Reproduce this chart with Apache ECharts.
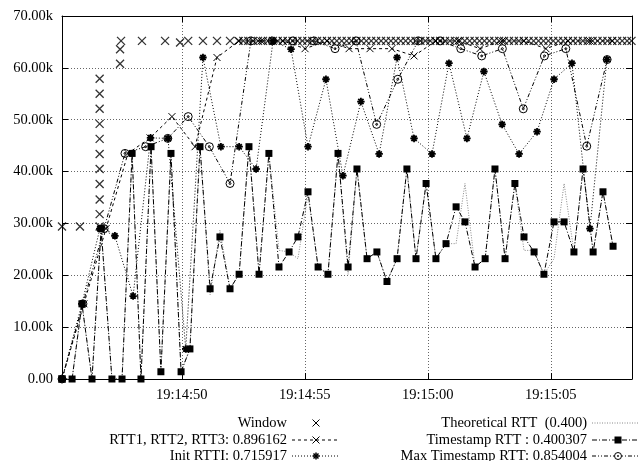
<!DOCTYPE html>
<html><head><meta charset="utf-8">
<script src="https://cdn.jsdelivr.net/npm/echarts@6/dist/echarts.min.js"></script>
<style>html,body{margin:0;padding:0;background:#fff}#c{width:638px;height:461px}</style>
</head><body><div id="c"></div>
<script>
// ---- axis ticks (x in seconds after 19:14:00) ----
const X_MIN = 45.13, X_MAX = 68.30;
const xTicks = [50, 55, 60, 65];
const xTickLabels = ['19:14:50', '19:14:55', '19:15:00', '19:15:05'];
const yTicks = [0, 10000, 20000, 30000, 40000, 50000, 60000, 70000];
const yTickLabels = ['0.00', '10.00k', '20.00k', '30.00k', '40.00k', '50.00k', '60.00k', '70.00k'];

// ---- Window (bytes, in thousands) ----
const windowTimes = [45.13, 45.86, 46.66, 46.66, 46.66, 46.66, 46.66, 46.66, 46.66, 46.66, 46.66, 46.66, 46.66,
  47.49, 47.49, 47.53, 48.38, 49.32, 49.93, 50.26, 50.86, 51.43, 51.96,
  52.30, 52.50, 52.70, 52.90, 53.10, 53.30, 53.50, 53.70, 53.90, 54.10,
  54.30, 54.50, 54.70, 54.90, 55.10, 55.30, 55.50, 55.70, 55.90, 56.10,
  56.30, 56.50, 56.70, 56.90, 57.10, 57.30, 57.50, 57.70, 57.90, 58.10,
  58.30, 58.50, 58.70, 58.90, 59.10, 59.30, 59.50, 59.70, 59.90, 60.10,
  60.30, 60.50, 60.70, 60.90, 61.10, 61.30, 61.50, 61.70, 61.90, 62.10,
  62.30, 62.50, 62.70, 62.90, 63.10, 63.30, 63.50, 63.70, 63.90, 64.10,
  64.30, 64.50, 64.70, 64.90, 65.10, 65.30, 65.50, 65.70, 65.90, 66.10,
  66.30, 66.50, 66.70, 66.90, 67.10, 67.30, 67.50, 67.70, 67.90, 68.10,
  68.28];
const windowK = [29.4, 29.4, 29.4, 31.8, 34.6, 37.6, 40.5, 43.4, 46.3, 49.2, 52.1, 55.0, 57.9,
  60.8, 63.6, 65.2, 65.2, 65.2, 64.9, 65.2, 65.2, 65.2, 65.2,
  65.2, 65.2, 65.2, 65.2, 65.2, 65.2, 65.2, 65.2, 65.2, 65.2,
  65.2, 65.2, 65.2, 65.2, 65.2, 65.2, 65.2, 65.2, 65.2, 65.2,
  65.2, 65.2, 65.2, 65.2, 65.2, 65.2, 65.2, 65.2, 65.2, 65.2,
  65.2, 65.2, 65.2, 65.2, 65.2, 65.2, 65.2, 65.2, 65.2, 65.2,
  65.2, 65.2, 65.2, 65.2, 65.2, 65.2, 65.2, 65.2, 65.2, 65.2,
  65.2, 65.2, 65.2, 65.2, 65.2, 65.2, 65.2, 65.2, 65.2, 65.2,
  65.2, 65.2, 65.2, 65.2, 65.2, 65.2, 65.2, 65.2, 65.2, 65.2,
  65.2, 65.2, 65.2, 65.2, 65.2, 65.2, 65.2, 65.2, 65.2, 65.2,
  65.2];

// ---- RTT1, RTT2, RTT3 ----
const rttTimes = [45.13, 46.02, 46.92, 47.81, 48.71, 49.60, 50.54, 51.43, 52.33, 53.22, 54.11, 55.01, 55.90,
  56.80, 57.65, 58.54, 59.44, 60.33, 61.23, 62.12, 63.02, 63.91, 64.80, 65.70, 66.59, 67.49];
const rttK = [0, 14.5, 29.0, 43.5, 46.5, 50.6, 44.8, 62.0, 65.2, 65.2, 65.2, 63.7, 65.2,
  63.7, 63.7, 63.7, 62.3, 65.2, 65.2, 63.7, 65.2, 65.2, 63.7, 65.2, 65.2, 65.2];

// ---- Init RTTI ----
const initTimes = [45.13, 45.94, 46.67, 47.28, 48.02, 48.73, 49.44, 50.16, 50.86, 51.59, 52.33, 53.02, 53.71,
  54.44, 55.13, 55.86, 56.55, 57.28, 58.02, 58.75, 59.44, 60.17, 60.86, 61.59, 62.28, 63.02, 63.71,
  64.44, 65.13, 65.86, 66.59, 67.28];
const initK = [0, 14.5, 29.0, 27.6, 16.0, 46.5, 46.4, 5.8, 62.0, 44.8, 44.8, 40.5, 65.2,
  63.6, 44.8, 57.8, 39.2, 53.5, 43.4, 62.0, 46.4, 43.4, 60.9, 46.4, 59.3, 49.1, 43.4,
  47.7, 57.8, 60.9, 29.0, 61.6];

// ---- Timestamp RTT and Theoretical RTT (same sample times) ----
const tsTimes = [45.13, 45.54, 45.94, 46.35, 46.72, 47.16, 47.57, 47.98, 48.34, 48.75, 49.15, 49.56, 49.97,
  50.33, 50.74, 51.15, 51.55, 51.96, 52.33, 52.73, 53.14, 53.54, 53.95, 54.36, 54.72, 55.13, 55.54,
  55.94, 56.35, 56.76, 57.12, 57.53, 57.93, 58.34, 58.75, 59.15, 59.52, 59.93, 60.33, 60.74, 61.15,
  61.51, 61.92, 62.33, 62.73, 63.14, 63.54, 63.91, 64.32, 64.72, 65.13, 65.54, 65.94, 66.31, 66.72,
  67.12, 67.53];
const timestampK = [0, 0, 14.5, 0, 29.0, 0, 0, 43.5, 0, 44.8, 1.4, 43.5, 1.4,
  5.8, 44.8, 17.4, 27.4, 17.4, 20.2, 44.8, 20.2, 43.5, 21.6, 24.5, 27.4, 36.1, 21.6,
  20.2, 43.5, 21.6, 40.5, 23.2, 24.5, 18.8, 23.2, 40.5, 23.2, 37.7, 23.2, 26.1, 33.2,
  30.3, 21.6, 23.2, 40.5, 23.2, 37.7, 27.4, 24.5, 20.2, 30.3, 30.3, 24.5, 40.5, 24.5,
  36.1, 25.6];
const theoreticalK = [0, 0, 14.5, 0, 29.0, 0, 0, 43.5, 0, 44.8, 1.4, 43.5, 1.4,
  5.8, 44.8, 16.2, 28.7, 17.4, 20.2, 44.8, 20.2, 43.5, 24.8, 24.5, 23.2, 35.5, 21.6,
  20.2, 43.5, 20.2, 40.5, 23.2, 24.5, 18.8, 23.2, 40.5, 23.2, 37.7, 23.2, 26.1, 26.1,
  37.7, 21.6, 23.2, 40.5, 23.2, 37.7, 24.8, 24.8, 20.2, 23.2, 37.7, 24.5, 40.5, 24.5,
  36.1, 25.6];

// ---- Max Timestamp RTT ----
const maxTimes = [45.13, 45.98, 46.84, 47.69, 48.53, 49.43, 50.26, 51.12, 51.96, 52.81, 53.67, 54.52, 55.37,
  56.23, 57.08, 57.92, 58.78, 59.61, 60.50, 61.34, 62.19, 63.03, 63.88, 64.74, 65.61, 66.46, 67.29];
const maxK = [0, 14.5, 29.0, 43.5, 44.8, 46.4, 50.6, 44.8, 37.7, 65.2, 65.2, 65.2, 65.2,
  63.7, 65.2, 49.1, 57.8, 65.2, 65.2, 63.7, 62.3, 63.7, 52.1, 62.3, 63.7, 44.9, 61.6];

const legendNames = {
  win: 'Window',
  rtt: 'RTT1, RTT2, RTT3: 0.896162',
  init: 'Init RTTI: 0.715917',
  theo: 'Theoretical RTT \u00a0(0.400)',
  ts: 'Timestamp RTT : 0.400307',
  max: 'Max Timestamp RTT: 0.854004'
};

// ---------------------------------------------------------------
const FONT = 'Liberation Serif';
const FS = 14.5;
const SYM_X = 'path://M0,0L10,10M10,0L0,10';
const SYM_STAR = 'path://M5,0L5,10M0,5L10,5M1.5,1.5L8.5,8.5M8.5,1.5L1.5,8.5';
const SYM_CIRC = 'path://M10,5A5,5,0,1,1,0,5A5,5,0,1,1,10,5ZM6.2,5A1.2,1.2,0,1,1,3.8,5A1.2,1.2,0,1,1,6.2,5Z';
const pairs = (t, v) => t.map((x, i) => [x, v[i] * 1000]);
const hollow = { color: 'rgba(0,0,0,0)', borderColor: '#000', borderWidth: 1 };

const DASH = { rtt: [3, 3], init: [1, 2], theo: [1, 1.5], ts: [5, 2, 1, 2], max: [4, 2, 1, 2, 1, 2] };

const series = [
  { name: legendNames.win, type: 'scatter', data: pairs(windowTimes, windowK), symbol: SYM_X, symbolSize: 8,
    itemStyle: { color: 'rgba(0,0,0,0)', borderColor: '#000', borderWidth: 1.3 } },
  { name: legendNames.rtt, type: 'line', data: pairs(rttTimes, rttK), symbol: SYM_X, symbolSize: 7,
    showSymbol: true, showAllSymbol: true, itemStyle: hollow,
    lineStyle: { color: '#000', width: 1, type: DASH.rtt } },
  { name: legendNames.init, type: 'line', data: pairs(initTimes, initK), symbol: SYM_STAR, symbolSize: 7.5,
    showSymbol: true, showAllSymbol: true, itemStyle: { color: 'rgba(0,0,0,0)', borderColor: '#000', borderWidth: 1.8 },
    lineStyle: { color: '#000', width: 1, type: DASH.init } },
  { name: legendNames.theo, type: 'line', data: pairs(tsTimes, theoreticalK), symbol: 'none',
    lineStyle: { color: '#888', width: 1, type: DASH.theo } },
  { name: legendNames.ts, type: 'line', data: pairs(tsTimes, timestampK), symbol: 'rect', symbolSize: 7,
    showSymbol: true, showAllSymbol: true, itemStyle: { color: '#000', borderWidth: 0 },
    lineStyle: { color: '#000', width: 1, type: DASH.ts } },
  { name: legendNames.max, type: 'line', data: pairs(maxTimes, maxK), symbol: SYM_CIRC, symbolSize: 8,
    showSymbol: true, showAllSymbol: true, itemStyle: hollow,
    lineStyle: { color: '#000', width: 1, type: DASH.max } }
];
series.forEach(s => { s.animation = false; s.emphasis = { disabled: true }; s.silent = true; s.xAxisIndex = 0; s.yAxisIndex = 0; });

// ---- legend drawn as graphic ----
function symbolEls(kind, cx, cy) {
  const ls = { stroke: '#000', lineWidth: 1 };
  const h = 3.5;
  if (kind === 'x') return [
    { type: 'line', shape: { x1: cx - h, y1: cy - h, x2: cx + h, y2: cy + h }, style: ls },
    { type: 'line', shape: { x1: cx + h, y1: cy - h, x2: cx - h, y2: cy + h }, style: ls }];
  if (kind === 'star') return [
    { type: 'line', shape: { x1: cx, y1: cy - h, x2: cx, y2: cy + h }, style: { stroke: '#000', lineWidth: 1.5 } },
    { type: 'line', shape: { x1: cx - h, y1: cy, x2: cx + h, y2: cy }, style: { stroke: '#000', lineWidth: 1.5 } },
    { type: 'line', shape: { x1: cx - 2.5, y1: cy - 2.5, x2: cx + 2.5, y2: cy + 2.5 }, style: { stroke: '#000', lineWidth: 1.5 } },
    { type: 'line', shape: { x1: cx + 2.5, y1: cy - 2.5, x2: cx - 2.5, y2: cy + 2.5 }, style: { stroke: '#000', lineWidth: 1.5 } }];
  if (kind === 'rect') return [{ type: 'rect', shape: { x: cx - 3.5, y: cy - 3.5, width: 7, height: 7 }, style: { fill: '#000' } }];
  if (kind === 'circ') return [
    { type: 'circle', shape: { cx: cx, cy: cy, r: 3.5 }, style: { fill: '#fff', stroke: '#000', lineWidth: 1 } },
    { type: 'circle', shape: { cx: cx, cy: cy, r: 0.9 }, style: { fill: '#000' } }];
  return [];
}
const legendRows = [
  { text: legendNames.win, tx: 287, y: 423, x1: 292, x2: 339, sx: 316, line: null, color: '#000', sym: 'x' },
  { text: legendNames.rtt, tx: 287, y: 440, x1: 292, x2: 339, sx: 316, line: DASH.rtt, color: '#000', sym: 'x' },
  { text: legendNames.init, tx: 287, y: 456, x1: 292, x2: 339, sx: 316, line: DASH.init, color: '#000', sym: 'star' },
  { text: legendNames.theo, tx: 587, y: 423, x1: 592, x2: 645, sx: 618, line: DASH.theo, color: '#888', sym: null },
  { text: legendNames.ts, tx: 587, y: 440, x1: 592, x2: 645, sx: 618, line: DASH.ts, color: '#000', sym: 'rect' },
  { text: legendNames.max, tx: 587, y: 456, x1: 592, x2: 645, sx: 618, line: DASH.max, color: '#000', sym: 'circ' }
];
const graphic = [];
legendRows.forEach(r => {
  graphic.push({ type: 'text', x: r.tx, y: r.y, silent: true,
    style: { text: r.text, fontFamily: FONT, fontSize: FS, fill: '#000', align: 'right', verticalAlign: 'middle' } });
  if (r.line) graphic.push({ type: 'line', silent: true, shape: { x1: r.x1, y1: r.y, x2: r.x2, y2: r.y },
    style: { stroke: r.color, lineWidth: 1, lineDash: r.line } });
  if (r.sym) symbolEls(r.sym, r.sx, r.y).forEach(e => { e.silent = true; graphic.push(e); });
});

const labelStyle = { fontFamily: FONT, fontSize: FS, color: '#000' };
const gridLine = { show: true, lineStyle: { color: '#666', width: 1, type: [1, 2] } };
const option = {
  animation: false,
  backgroundColor: '#fff',
  textStyle: { fontFamily: FONT },
  grid: { left: 62, right: 6, top: 16, bottom: 82, containLabel: false, show: false },
  xAxis: [
    { type: 'value', min: X_MIN, max: X_MAX, position: 'bottom',
      axisLine: { show: true, onZero: false, lineStyle: { color: '#000', width: 1 } },
      axisTick: { show: true, inside: true, length: 6, customValues: xTicks, lineStyle: { color: '#000' } },
      axisLabel: Object.assign({ show: true, margin: 9, customValues: xTicks,
        formatter: v => { const i = xTicks.indexOf(Math.round(v * 100) / 100); return i >= 0 ? xTickLabels[i] : ''; } }, labelStyle),
      splitLine: gridLine },
    { type: 'value', min: X_MIN, max: X_MAX, position: 'top',
      axisLine: { show: true, onZero: false, lineStyle: { color: '#000', width: 1 } },
      axisTick: { show: true, inside: true, length: 6, customValues: xTicks, lineStyle: { color: '#000' } },
      axisLabel: { show: false }, splitLine: { show: false } }
  ],
  yAxis: [
    { type: 'value', min: 0, max: 70000, interval: 10000, position: 'left',
      axisLine: { show: true, onZero: false, lineStyle: { color: '#000', width: 1 } },
      axisTick: { show: true, inside: true, length: 6, lineStyle: { color: '#000' } },
      axisLabel: Object.assign({ show: true, margin: 9,
        formatter: v => { const i = yTicks.indexOf(v); return i >= 0 ? yTickLabels[i] : ''; } }, labelStyle),
      splitLine: gridLine },
    { type: 'value', min: 0, max: 70000, interval: 10000, position: 'right',
      axisLine: { show: true, onZero: false, lineStyle: { color: '#000', width: 1 } },
      axisTick: { show: true, inside: true, length: 6, lineStyle: { color: '#000' } },
      axisLabel: { show: false }, splitLine: { show: false } }
  ],
  series: series,
  graphic: graphic
};
const chart = echarts.init(document.getElementById('c'), null, { renderer: 'canvas' });
chart.setOption(option);
</script>
</body></html>
